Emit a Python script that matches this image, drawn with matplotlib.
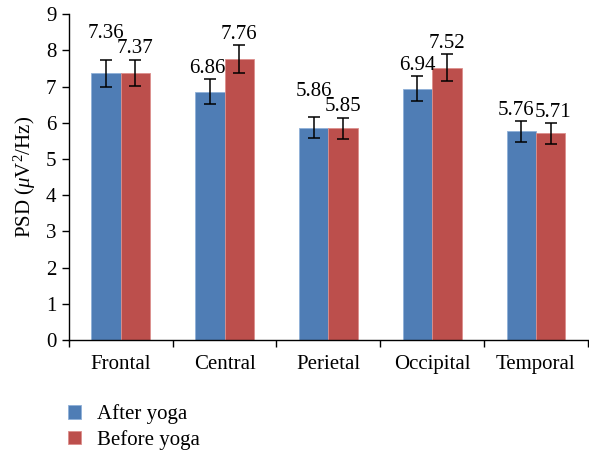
import numpy as np
import matplotlib.pyplot as plt

plt.rcParams['font.family'] = ['Liberation Serif', 'DejaVu Serif']
plt.rcParams['mathtext.fontset'] = 'custom'
plt.rcParams['mathtext.rm'] = 'Liberation Serif'
plt.rcParams['mathtext.it'] = 'Liberation Serif:italic'

regions = ['Frontal', 'Central', 'Perietal', 'Occipital', 'Temporal']
after_yoga = [7.36, 6.86, 5.86, 6.94, 5.76]
before_yoga = [7.37, 7.76, 5.85, 7.52, 5.71]
after_err = [v * 0.05 for v in after_yoga]
before_err = [v * 0.05 for v in before_yoga]

blue = '#4F7DB5'
red = '#BC4F4C'
fs = 15

fig = plt.figure(figsize=(5.89, 4.53), dpi=100)
ax = fig.add_axes([0.117, 0.249, 0.881, 0.72])

x = np.arange(len(regions))
w = 0.283

ax.bar(x - w / 2, after_yoga, w, color=blue, edgecolor='#8FB0D8', linewidth=0.6,
       label='After yoga', zorder=2)
ax.bar(x + w / 2, before_yoga, w, color=red, edgecolor='#DC8F8C', linewidth=0.6,
       label='Before yoga', zorder=2)
ax.errorbar(x - w / 2, after_yoga, yerr=after_err, fmt='none', ecolor='black',
            elinewidth=1.1, capsize=4, capthick=1.1, zorder=3)
ax.errorbar(x + w / 2, before_yoga, yerr=before_err, fmt='none', ecolor='black',
            elinewidth=1.1, capsize=4, capthick=1.1, zorder=3)

# labels above the error bars, blue raised where it would collide with red
lift_after = [11, 0, 11, 0, 0]
shift_after = [0, -2, 0, 0, -4]
shift_before = [0, 0, 0, 0, 2]
for i in range(len(regions)):
    ax.annotate(f'{after_yoga[i]:.2f}', (x[i] - w / 2, after_yoga[i] + after_err[i]),
                xytext=(shift_after[i], 1 + lift_after[i]), textcoords='offset points',
                ha='center', va='bottom', fontsize=fs)
    ax.annotate(f'{before_yoga[i]:.2f}', (x[i] + w / 2, before_yoga[i] + before_err[i]),
                xytext=(shift_before[i], 1), textcoords='offset points',
                ha='center', va='bottom', fontsize=fs)

ax.set_xlim(-0.5, len(regions) - 0.5)
ax.set_ylim(0, 9)
ax.set_yticks(range(0, 10))
ax.set_xticks(np.arange(-0.5, len(regions), 1.0))
ax.set_xticklabels([])
ax.set_xticks(x, minor=True)
ax.set_xticklabels(regions, minor=True)
ax.tick_params(axis='x', which='minor', length=0, pad=11, labelsize=fs)
ax.tick_params(axis='x', which='major', direction='out', length=5, width=1)
ax.tick_params(axis='y', direction='out', length=5, width=1, labelsize=fs, pad=4)

for s in ['top', 'right']:
    ax.spines[s].set_visible(False)
ax.spines['left'].set_linewidth(1)
ax.spines['bottom'].set_linewidth(1)

ax.set_ylabel(r'PSD ($\mu$V$^2$/Hz)', fontsize=fs, labelpad=6)

fig.legend(loc='upper left', bbox_to_anchor=(0.095, 0.135), frameon=False,
           fontsize=fs, handlelength=0.6, handleheight=0.6, handletextpad=0.75,
           labelspacing=0.28, borderaxespad=0.2)

fig.savefig('out.png', dpi=100)
